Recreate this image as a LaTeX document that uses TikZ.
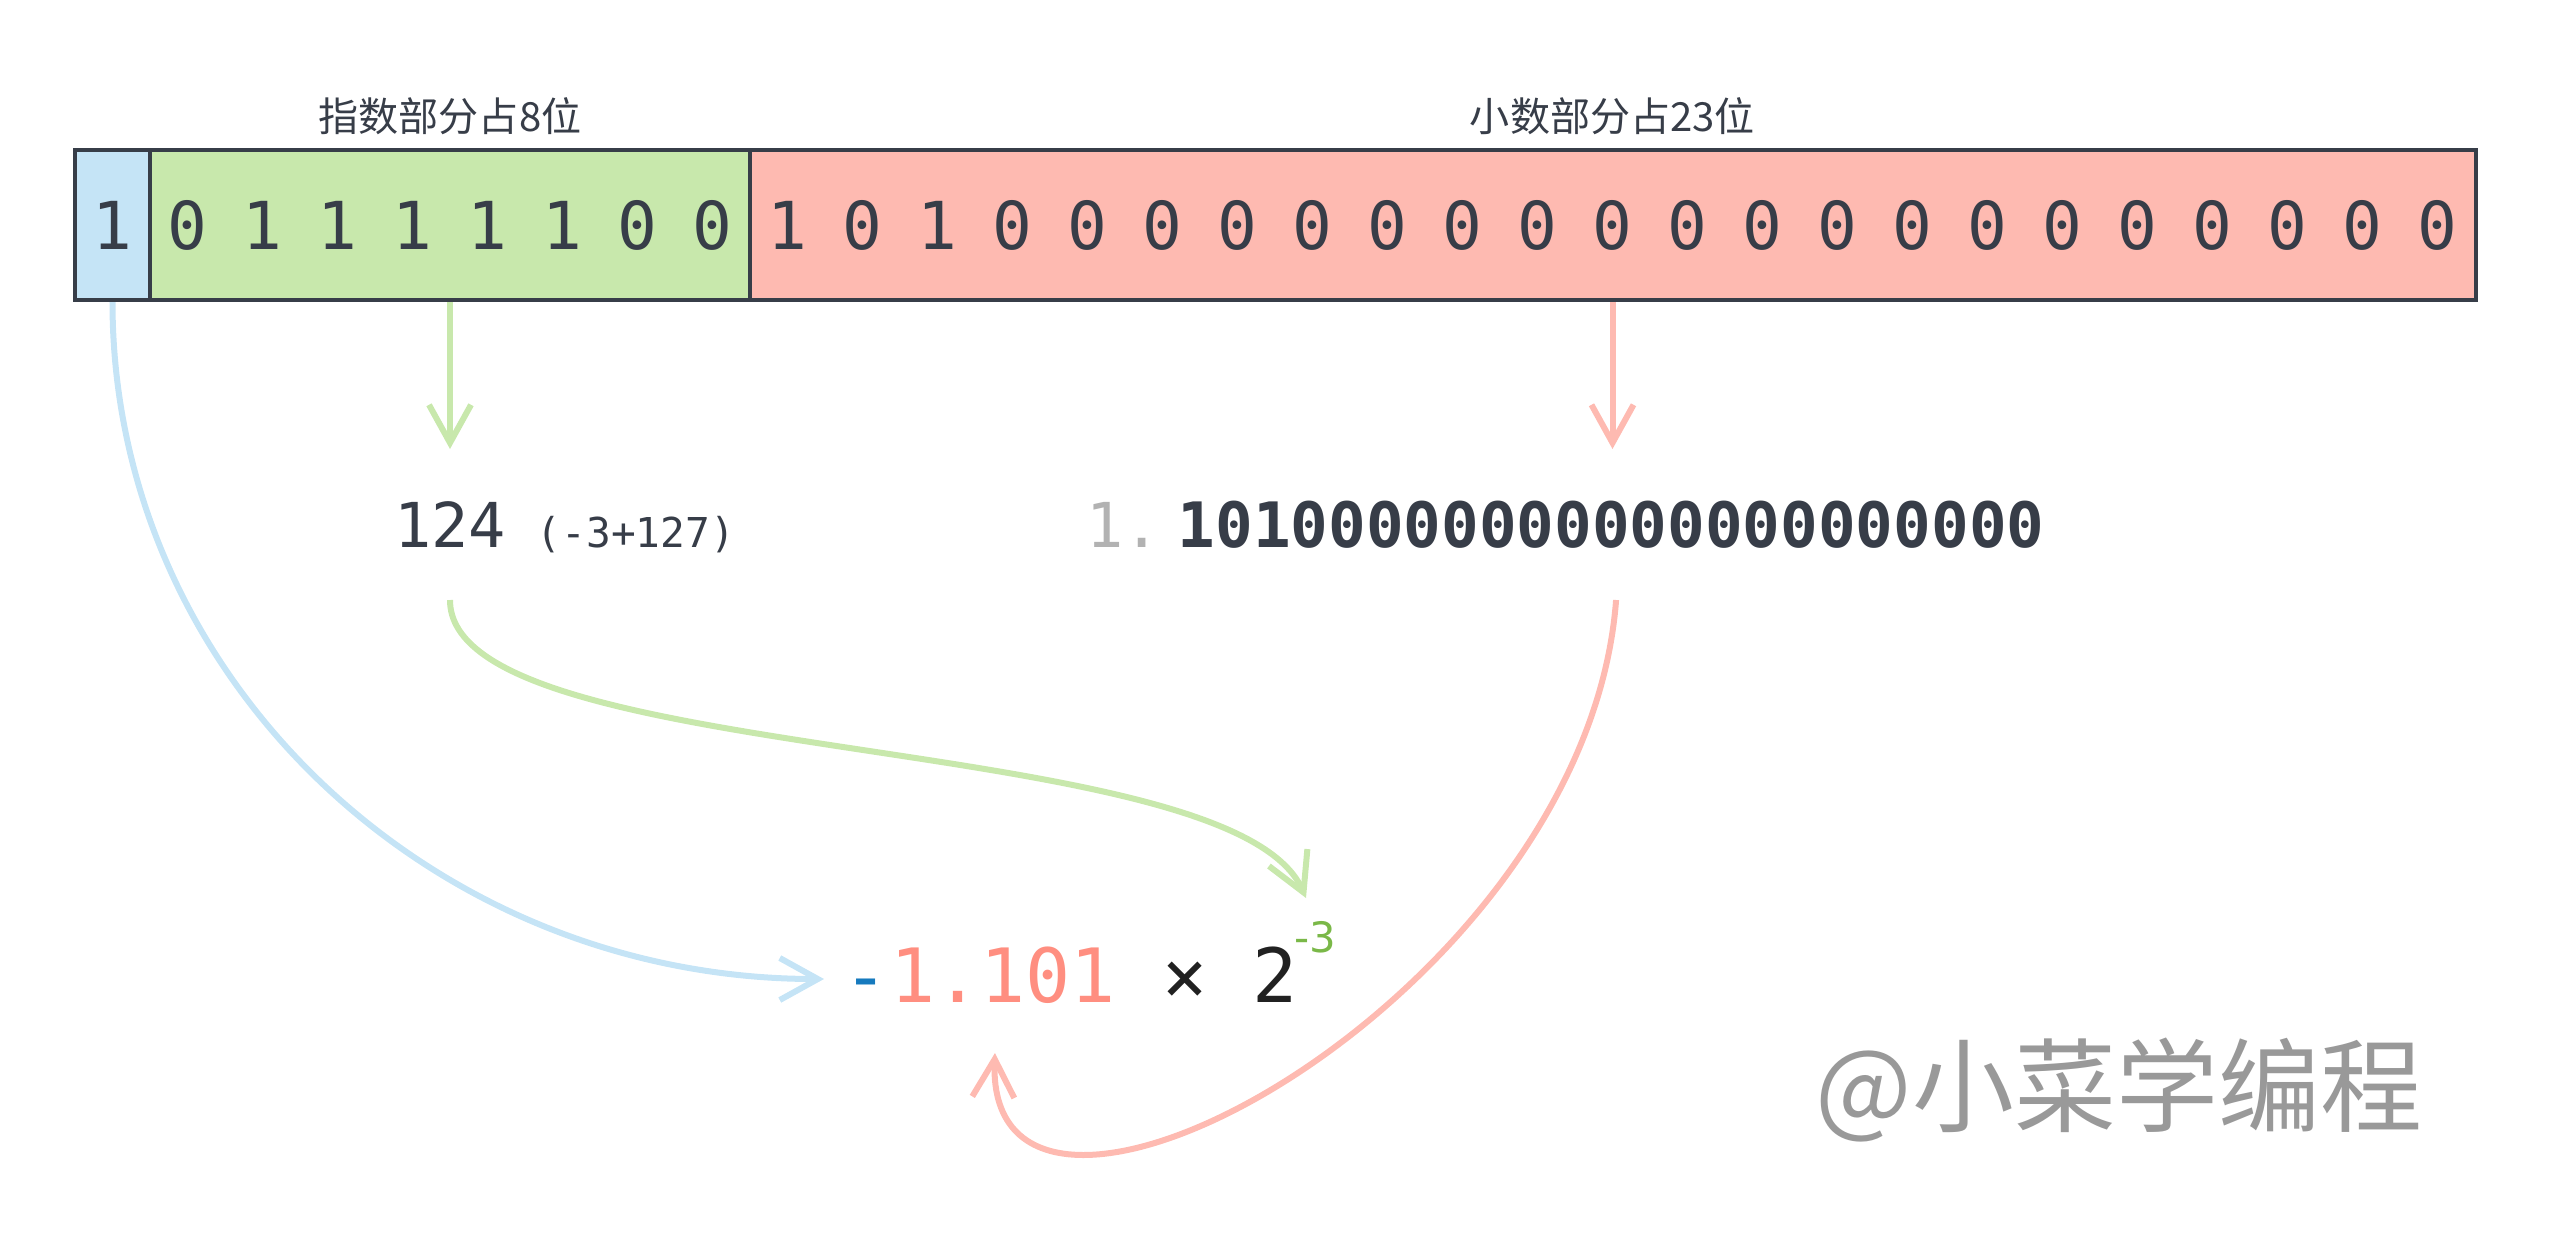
\documentclass[tikz,border=0pt]{standalone}
\usepackage{fontspec}
\usepackage{tikz}
\usetikzlibrary{arrows.meta,positioning,calc}
\setmainfont{DejaVu Sans}
\setmonofont{DejaVu Sans Mono}
\newfontfamily\cjk{Noto Sans CJK SC}
\definecolor{Ink}{RGB}{55,61,72}
\definecolor{SignC}{RGB}{197,228,246}
\definecolor{ExpC}{RGB}{200,232,172}
\definecolor{FracC}{RGB}{254,186,177}
\definecolor{SignDark}{RGB}{22,122,190}
\definecolor{FracDark}{RGB}{255,142,128}
\definecolor{ExpDark}{RGB}{122,184,72}
\definecolor{lead}{RGB}{178,178,178}
\definecolor{mark}{RGB}{153,153,153}
\newcommand{\fsz}[1]{\fontsize{#1pt}{#1pt}\selectfont}

\begin{document}
\begin{tikzpicture}[x=0.01cm,y=-0.01cm,
  field/.style={draw=Ink,line width=0.04cm,minimum height=1.5cm,inner sep=0pt},
  bit/.style={font=\ttfamily\fsz{18.8},text=Ink,inner sep=0pt},
  val/.style={font=\ttfamily\fsz{17.6},text=Ink,inner sep=0pt},
  res/.style={font=\ttfamily\fsz{21.3},inner sep=0pt,anchor=base west},
  head/.style={font=\cjk\fsz{11.4},text=Ink},
  link/.style={line width=0.06cm,-{Straight Barb[length=0.38cm,width=0.42cm]}}]
  \useasboundingbox (0,0) rectangle (2550,1238);
  % the 32 bit fields: sign | exponent | fraction
  \node[field,fill=SignC,minimum width=0.75cm] (sgn) at (112.5,225) {};
  \node[field,fill=ExpC,minimum width=6cm] (expf) at (450,225) {};
  \node[field,fill=FracC,minimum width=17.25cm] (frac) at (1612.5,225) {};
  \foreach \b [count=\i from 0] in {1,0,1,1,1,1,1,0,0,1,0,1,0,0,0,0,0,0,0,0,0,0,0,0,0,0,0,0,0,0,0,0}
    \node[bit] (b\i) at ({112.5+75*\i},225) {\b};
  \node[head] (expl) at (450,116) {指数部分占8位};
  \node[head] (fracl) at (1612.5,116) {小数部分占23位};
  % decoded parts
  \node[val,anchor=base] (v124) at (450,547) {124};
  \node[font=\ttfamily\fsz{11.7},text=Ink,inner sep=0pt,anchor=base west] (bias) at (536,547) {(-3+127)};
  \node[val,text=lead,anchor=base west] (one) at (1086,547) {1.};
  \node[val,font=\ttfamily\bfseries\fsz{17.8},anchor=base west] (fracv) at (1177,547) {10100000000000000000000};
  % result
  \node[res,text=SignDark] (neg) at (843,1002) {-};
  \node[res,text=FracDark] (mant) at (neg.base east) {1.101};
  \node[res,text=black!87] (mul) at (mant.base east) {\hspace{0.602em}×\hspace{0.602em}2};
  \node[font=\fsz{11.9},text=ExpDark,inner sep=0pt,anchor=base west] (pow) at (1294,952) {-3};
  \node[font=\cjk\fsz{29},text=mark] (wm) at (2119,1090) {@小菜学编程};
  % connectors
  \draw[link,ExpC] (expf.south) -- ($(v124.base)+(0,-98)$);
  \draw[link,FracC] (frac.south) -- ($(frac.south |- fracv.base)+(0,-98)$);
  \draw[link,SignC] (sgn.south) .. controls +(0,375) and +(-393,0) .. ($(neg.base west)+(-19,-23)$);
  \draw[link,ExpC] ($(v124.base)+(0,53)$) .. controls +(0,170) and +(-75,-170) .. ($(pow.base west)+(12,-54)$);
  \draw[link,FracC] ($(fracv.base)+(5,53)$) .. controls +(-30,400) and +(-10,267) .. ($(mant.base)+(-8,51)$);
\end{tikzpicture}
\end{document}
